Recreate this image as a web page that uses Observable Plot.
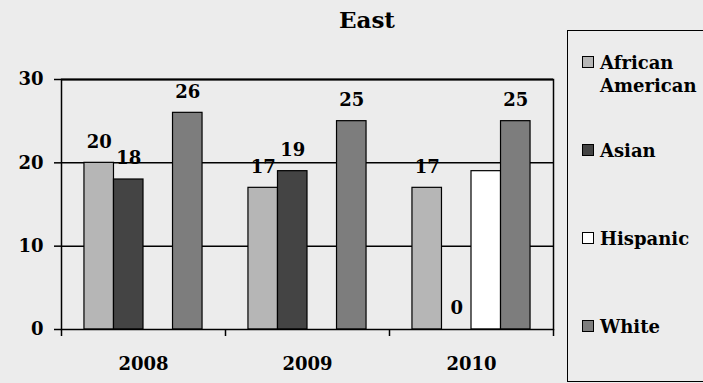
<!DOCTYPE html>
<html>
<head>
<meta charset="utf-8">
<script src="https://cdn.jsdelivr.net/npm/d3@7"></script>
<script src="https://cdn.jsdelivr.net/npm/@observablehq/plot@0.6"></script>
<style>
  html, body { margin: 0; padding: 0; background: #ececec; overflow: hidden; }
  #wrap { position: relative; width: 703px; height: 383px; overflow: hidden; font-family: "DejaVu Serif", serif; font-weight: bold; color: #000; }
  #title { position: absolute; left: 267px; width: 200px; top: 8px; text-align: center; font-size: 23px; line-height: 23px; }
  #chart { position: absolute; left: 0; top: 0; }
  #legend { position: absolute; left: 567px; top: 30px; width: 240px; height: 352px; box-sizing: border-box; border: 1.5px solid #000; padding-top: 20px; }
  .item { position: relative; height: 88px; padding-left: 32px; font-size: 18px; line-height: 23px; }
  .sw { position: absolute; left: 14px; top: 5px; width: 10px; height: 10px; border: 1px solid #000; }
</style>
</head>
<body>
<div id="wrap">
  <div id="chart"></div>
  <div id="title"></div>
  <div id="legend"></div>
</div>
<script>
// ---- data ----
const titleText = "East";
const years = ["2008", "2009", "2010"];
const series = ["African American", "Asian", "Hispanic", "White"];
const legendLines = [["African", "American"], ["Asian"], ["Hispanic"], ["White"]];
const africanAmerican = [20, 17, 17];
const asian = [18, 19, 0];
const hispanic = [null, null, 19];
const white = [26, 25, 25];
const showLabels = [true, true, false, true]; // Hispanic bars carry no value label in the source
const yTicks = [0, 10, 20, 30];
const colors = ["#b6b6b6", "#444444", "#ffffff", "#7d7d7d"];

// ---- build table ----
const seriesValues = [africanAmerican, asian, hispanic, white];
const barW = 0.18;                      // bar width in year-band units
const groupOffset = (1 - series.length * barW) / 2;
const rows = [];
series.forEach((s, j) => {
  years.forEach((y, i) => {
    const v = seriesValues[j][i];
    if (v == null) return;
    const x1 = i + groupOffset + j * barW;
    rows.push({year: y, series: s, value: v, x1, x2: x1 + barW, xc: x1 + barW / 2, label: showLabels[j]});
  });
});

const chart = Plot.plot({
  width: 703,
  height: 383,
  marginLeft: 61,
  marginRight: 150,
  marginTop: 79,
  marginBottom: 54,
  style: {fontFamily: "DejaVu Serif", fontWeight: "bold", fontSize: "18px", color: "#000", background: "transparent", overflow: "visible"},
  x: {domain: [0, years.length], axis: null},
  y: {domain: [0, 30], axis: null},
  color: {domain: series, range: colors},
  marks: [
    Plot.ruleY(yTicks.filter(t => t > 0 && t < 30), {stroke: "#000", strokeWidth: 1.5}),
    Plot.rectY(rows, {x1: "x1", x2: "x2", y: "value", fill: "series", stroke: "#000", strokeWidth: 1.2}),
    Plot.text(rows.filter(d => d.label), {x: "xc", y: "value", text: d => String(d.value), dy: -21, fill: "#000"}),
    Plot.frame({stroke: "#000", strokeWidth: 1.5}),
    Plot.ruleY([30], {stroke: "#000", strokeWidth: 2}),
    Plot.axisY({ticks: yTicks, tickSize: 7, tickPadding: 11, tickFormat: d => String(d), label: null, strokeWidth: 1.5}),
    Plot.axisX({ticks: d3.range(years.length + 1), tickSize: 7, tickFormat: () => "", label: null, strokeWidth: 1.5}),
    Plot.axisX({ticks: years.map((_, i) => i + 0.5), tickSize: 0, tickPadding: 28, tickFormat: t => years[Math.floor(t)], label: null})
  ]
});
document.getElementById("chart").appendChild(chart);
document.getElementById("title").textContent = titleText;

const legend = document.getElementById("legend");
series.forEach((s, j) => {
  const item = document.createElement("div");
  item.className = "item";
  const sw = document.createElement("span");
  sw.className = "sw";
  sw.style.background = colors[j];
  item.appendChild(sw);
  legendLines[j].forEach(line => {
    const d = document.createElement("div");
    d.textContent = line;
    item.appendChild(d);
  });
  legend.appendChild(item);
});
</script>
</body>
</html>
